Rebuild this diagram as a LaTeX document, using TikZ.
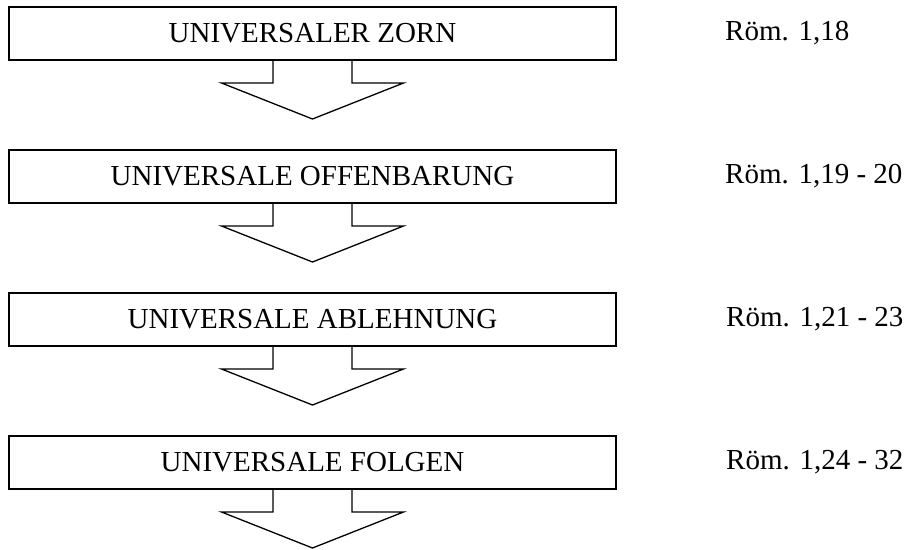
\documentclass[tikz,border=0pt]{standalone}
\usepackage{fontspec}
\setmainfont{Liberation Serif}
\usepackage{tikz}
\usetikzlibrary{arrows,positioning}
\usetikzlibrary{calc}

\begin{document}
\begin{tikzpicture}[x=1pt, y=1pt, node distance=143pt, auto]

\tikzstyle{block} = [rectangle, minimum width=607pt, minimum height=53pt, text centered, draw=black, line width=1.6pt, outer sep=0pt, font=\fontsize{29}{34}\selectfont]
\tikzstyle{ref} = [inner sep=0pt, anchor=west, font=\fontsize{29}{34}\selectfont]
\tikzstyle{blkarrow} = [draw=black, line width=1.3pt, line join=miter]

\useasboundingbox (0,0) rectangle (904,-549);

\node (zorn) [block] at (312.5,-33.5) {UNIVERSALER ZORN};
\node (offb) [block, below of=zorn] {UNIVERSALE OFFENBARUNG};
\node (ablehn) [block, below of=offb] {UNIVERSALE ABLEHNUNG};
\node (folgen) [block, below of=ablehn] {UNIVERSALE FOLGEN};

\node (r1) [ref, right=109pt of zorn] {Röm. 1,18};
\node (r2) [ref, right=109pt of offb] {Röm. 1,19 - 20};
\node (r3) [ref, right=110pt of ablehn] {Röm. 1,21 - 23};
\node (r4) [ref, right=110pt of folgen] {Röm. 1,24 - 32};

\draw [blkarrow] ($(zorn.south)+(-39.5,0)$) -- ++(0,-23) -- ++(-51.5,0) -- ++(91,-36) -- ++(91,36) -- ++(-51.5,0) -- ++(0,23);
\draw [blkarrow] ($(offb.south)+(-39.5,0)$) -- ++(0,-23) -- ++(-51.5,0) -- ++(91,-36) -- ++(91,36) -- ++(-51.5,0) -- ++(0,23);
\draw [blkarrow] ($(ablehn.south)+(-39.5,0)$) -- ++(0,-23) -- ++(-51.5,0) -- ++(91,-36) -- ++(91,36) -- ++(-51.5,0) -- ++(0,23);
\draw [blkarrow] ($(folgen.south)+(-39.5,0)$) -- ++(0,-23) -- ++(-51.5,0) -- ++(91,-36) -- ++(91,36) -- ++(-51.5,0) -- ++(0,23);
\end{tikzpicture}
\end{document}
